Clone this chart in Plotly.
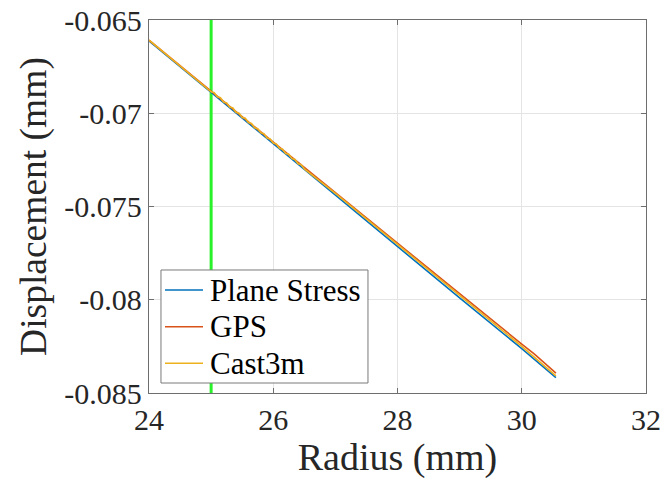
import plotly.graph_objects as go

# ---- data ----
x_ps = [24, 25, 26, 27, 28, 29, 30, 30.55]
y_ps = [-0.06612, -0.06888, -0.07163, -0.07439, -0.07715, -0.07990, -0.08262, -0.08418]

x_gps = [24, 25, 26, 27, 28, 29, 30, 30.2, 30.55]
y_gps = [-0.06608, -0.06884, -0.07155, -0.07426, -0.07698, -0.07968, -0.08238, -0.08290, -0.08393]

x_c3m = [24, 24.5, 25.00, 25.05, 25.10, 25.15, 25.20, 25.25, 25.30, 25.35, 25.40, 25.45,
         25.50, 25.55, 25.60, 25.65, 25.70, 25.75, 25.80, 25.85, 25.90, 25.95, 26.00,
         26.05, 26.10, 26.15, 26.20, 26.25, 26.30, 26.35, 26.40, 26.45, 26.50,
         27, 28, 29, 30, 30.55]
y_c3m = [-0.06608, -0.06746, -0.06885, -0.06890, -0.06912, -0.06917, -0.06940, -0.06945,
         -0.06967, -0.06972, -0.06995, -0.07000, -0.07023, -0.07027, -0.07050, -0.07055,
         -0.07078, -0.07083, -0.07105, -0.07110, -0.07133, -0.07138, -0.07160, -0.07165,
         -0.07188, -0.07193, -0.07216, -0.07220, -0.07243, -0.07248, -0.07271, -0.07276,
         -0.07298, -0.07430, -0.07704, -0.07977, -0.08250, -0.08408]

x_marker = [25, 25]
y_marker = [-0.085, -0.065]

series_names = ["Plane Stress", "GPS", "Cast3m"]
series_colors = ["#0072BD", "#D95319", "#EDB120"]

x_ticks = [24, 26, 28, 30, 32]
x_ticktext = ["24", "26", "28", "30", "32"]
y_ticks = [-0.085, -0.08, -0.075, -0.07, -0.065]
y_ticktext = ["-0.085", "-0.08", "-0.075", "-0.07", "-0.065"]

FONT = "Liberation Serif"
TXT = "#262626"
AX = "#6e6e6e"

fig = go.Figure()
fig.add_trace(go.Scatter(x=x_marker, y=y_marker, mode="lines",
                         line=dict(color="#2af22a", width=3), showlegend=False))
for xs, ys, nm, col in [(x_ps, y_ps, series_names[0], series_colors[0]),
                        (x_gps, y_gps, series_names[1], series_colors[1]),
                        (x_c3m, y_c3m, series_names[2], series_colors[2])]:
    fig.add_trace(go.Scatter(x=xs, y=ys, mode="lines", name=nm,
                             line=dict(color=col, width=1.6), showlegend=False))

# legend box (MATLAB-style, drawn in paper coordinates)
box_x0, box_x1, box_y0, box_y1 = 0.0241, 0.4406, 0.0268, 0.3298
fig.add_shape(type="rect", xref="paper", yref="paper", x0=box_x0, x1=box_x1, y0=box_y0, y1=box_y1,
              fillcolor="white", line=dict(color="#7a7a7a", width=1), layer="above")
row_y = [0.2761, 0.1777, 0.0796]
for nm, col, ry in zip(series_names, series_colors, row_y):
    fig.add_shape(type="line", xref="paper", yref="paper", x0=0.0322, x1=0.1087, y0=ry, y1=ry,
                  line=dict(color=col, width=1.6), layer="above")
    fig.add_annotation(xref="paper", yref="paper", x=0.1187, y=ry, xanchor="left", yanchor="middle",
                       text=nm, showarrow=False, font=dict(family=FONT, size=31, color="black"))

axis_common = dict(showline=True, linecolor=AX, linewidth=1.3, mirror="ticks",
                   ticks="inside", ticklen=5, tickcolor=AX, tickwidth=1.3,
                   showgrid=True, gridcolor="#e4e4e4", gridwidth=1, zeroline=False,
                   automargin=False,
                   tickfont=dict(family=FONT, size=30, color=TXT))

fig.update_layout(
    width=662, height=482,
    margin=dict(l=149, r=16, t=20, b=89),
    paper_bgcolor="white", plot_bgcolor="white",
    font=dict(family=FONT),
    xaxis=dict(range=[24, 32], tickvals=x_ticks, ticktext=x_ticktext,
               title=dict(text="Radius (mm)", font=dict(family=FONT, size=38, color=TXT), standoff=6),
               **axis_common),
    yaxis=dict(range=[-0.085, -0.065], tickvals=y_ticks, ticktext=y_ticktext,
               title=dict(text="Displacement (mm)", font=dict(family=FONT, size=37.5, color=TXT), standoff=6),
               **axis_common),
    showlegend=False,
)

fig.write_html("out.html")
